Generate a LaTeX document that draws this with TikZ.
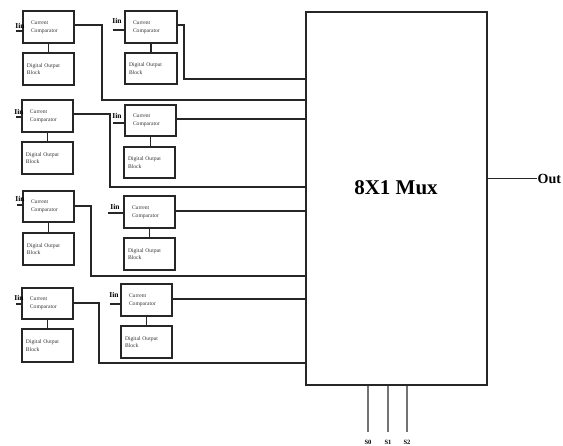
\documentclass[tikz,border=0pt]{standalone}
\usepackage{fontspec}
\setmainfont{Liberation Serif}
\begin{document}
\begin{tikzpicture}[x=1pt,y=-1pt,
  blk/.style={draw=black!85,line width=1.3pt,rectangle,inner sep=0pt,
     align=left,font=\fontsize{5.6}{7.8}\selectfont,text=black!80},
  wire/.style={draw=black!85,line width=1.2pt},
  link/.style={draw=black!85,line width=1.4pt},
  sel/.style={draw=black!55,line width=1.4pt},
  iin/.style={font=\bfseries\fontsize{7.5}{8}\selectfont,inner sep=0pt},
  slab/.style={font=\bfseries\fontsize{6.5}{7}\selectfont,inner sep=0pt}]
\useasboundingbox (0,0) rectangle (563,446);
\newcommand{\ccbox}[5]{% name, x1,y1,x2,y2
  \node[blk,minimum width={#4-#2},minimum height={#5-#3},text width={#4-#2-16}] (#1) at ({(#2+#4)/2},{(#3+#5)/2}) {Current\\Comparator};}
\newcommand{\dobox}[5]{%
  \node[blk,minimum width={#4-#2},minimum height={#5-#3},text width={#4-#2-8}] (#1) at ({(#2+#4)/2},{(#3+#5)/2}) {Digital Output\\Block};}
% row 1
\ccbox{lc1}{23}{11}{74}{43}
\dobox{ld1}{23}{53}{74}{85}
\ccbox{rc1}{125}{11}{177}{43}
\dobox{rd1}{125}{53}{177}{84}
% row 2
\ccbox{lc2}{22}{100}{73}{132}
\dobox{ld2}{22}{142}{73}{174}
\ccbox{rc2}{125}{105}{176}{136}
\dobox{rd2}{124}{147}{175}{178}
% row 3
\ccbox{lc3}{23}{191}{74}{222}
\dobox{ld3}{23}{233}{74}{265}
\ccbox{rc3}{124}{196}{175}{228}
\dobox{rd3}{124}{238}{175}{270}
% row 4
\ccbox{lc4}{22}{288}{73}{319}
\dobox{ld4}{22}{329}{73}{362}
\ccbox{rc4}{121}{284}{172}{316}
\dobox{rd4}{121}{326}{172}{358}
% mux
\node[draw=black!85,line width=1.3pt,minimum width=181,minimum height=373,inner sep=0pt] (mux) at (396.5,198.5) {};
\node[font=\bfseries\fontsize{21}{24}\selectfont,inner sep=0pt] (muxlab) at (396,188) {8X1 Mux};
% comparator to output block links
\foreach \c/\d in {lc1/ld1,rc1/rd1,lc2/ld2,rc2/rd2,lc3/ld3,rc3/rd3,lc4/ld4,rc4/rd4}
  \draw[link] (\c.south) -- (\c.south |- \d.north);
% Iin inputs
\node[iin] (i1) at (20,26) {Iin};
\coordinate (i1s) at (16,31);
\draw[wire] (i1s) -- (lc1.west |- i1s);
\node[iin] (i2) at (117,21) {Iin};
\coordinate (i2s) at (113,30);
\draw[wire] (i2s) -- (rc1.west |- i2s);
\node[iin] (i3) at (19,112) {Iin};
\coordinate (i3s) at (16,117);
\draw[wire] (i3s) -- (lc2.west |- i3s);
\node[iin] (i4) at (117,116) {Iin};
\coordinate (i4s) at (113,123);
\draw[wire] (i4s) -- (rc2.west |- i4s);
\node[iin] (i5) at (20,199) {Iin};
\coordinate (i5s) at (17,205);
\draw[wire] (i5s) -- (lc3.west |- i5s);
\node[iin] (i6) at (115,207) {Iin};
\coordinate (i6s) at (108,213);
\draw[wire] (i6s) -- (rc3.west |- i6s);
\node[iin] (i7) at (19,298) {Iin};
\coordinate (i7s) at (16,304);
\draw[wire] (i7s) -- (lc4.west |- i7s);
\node[iin] (i8) at (114,295) {Iin};
\coordinate (i8s) at (110,304);
\draw[wire] (i8s) -- (rc4.west |- i8s);
% outputs to mux
\draw[wire] ([yshift=2pt]lc1.east) -- (102,25) |- (mux.west |- 0,100);
\draw[wire] ([yshift=2pt]rc1.east) -- (184,25) |- (mux.west |- 0,79);
\draw[wire] ([yshift=2pt]lc2.east) -- (110,114) |- (mux.west |- 0,187);
\draw[wire] ([yshift=1.5pt]rc2.east) -- (mux.west |- 0,119);
\draw[wire] ([yshift=0.5pt]lc3.east) -- (91,206) |- (mux.west |- 0,276);
\draw[wire] ([yshift=1pt]rc3.east) -- (mux.west |- 0,211);
\draw[wire] ([yshift=0.5pt]lc4.east) -- (99,303) |- (mux.west |- 0,363);
\draw[wire] ([yshift=1pt]rc4.east) -- (mux.west |- 0,299);
% output
\coordinate (oend) at (537,178);
\draw[wire,line width=0.9pt] (mux.east |- oend) -- (oend);
\node[font=\bfseries\fontsize{14}{16}\selectfont,inner sep=0pt,anchor=west] (out) at (537.5,179) {Out};
% select lines
\foreach \n/\x in {0/368,1/388,2/407}{
  \coordinate (s\n e) at (\x,432);
  \draw[sel] (mux.south -| s\n e) -- (s\n e);
  \node[slab] (s\n) at (\x,442) {S\n};
}
\end{tikzpicture}
\end{document}
